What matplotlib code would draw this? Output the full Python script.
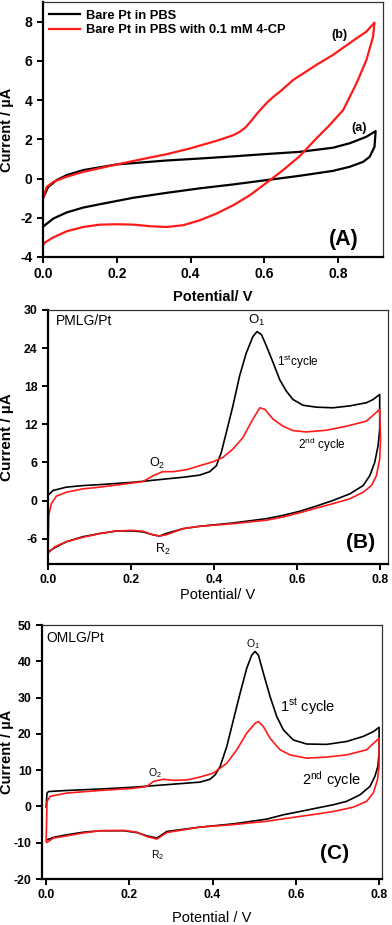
import numpy as np
import matplotlib
matplotlib.use("Agg")
import matplotlib.pyplot as plt

plt.rcParams["font.family"] = ["Liberation Sans", "DejaVu Sans"]
plt.rcParams["mathtext.fontset"] = "custom"
plt.rcParams["mathtext.rm"] = "Liberation Sans"
plt.rcParams["mathtext.it"] = "Liberation Sans:italic"
plt.rcParams["mathtext.bf"] = "Liberation Sans:bold"
plt.rcParams["axes.unicode_minus"] = False

RED = "#ff1a1a"

# ---------------------------------------------------------------------------
# Panel A: bare Pt, with / without 4-CP  (forward sweep, then reverse sweep)
# ---------------------------------------------------------------------------
a_black_fwd_v = [0.0, 0.014, 0.037, 0.064, 0.109, 0.2, 0.335, 0.425, 0.516, 0.606,
                 0.696, 0.786, 0.832, 0.877, 0.902]
a_black_fwd_i = [-1.0, -0.43, -0.08, 0.17, 0.43, 0.72, 0.92, 1.02, 1.13, 1.25,
                 1.36, 1.57, 1.8, 2.13, 2.42]
a_black_rev_v = [0.899, 0.886, 0.868, 0.832, 0.786, 0.696, 0.606, 0.516, 0.425, 0.335,
                 0.245, 0.154, 0.109, 0.064, 0.028, 0.005, 0.0]
a_black_rev_i = [1.62, 1.11, 0.85, 0.6, 0.39, 0.14, -0.08, -0.3, -0.5, -0.73,
                 -0.98, -1.31, -1.48, -1.73, -2.04, -2.38, -2.47]

a_red_fwd_v = [0.0, 0.01, 0.028, 0.064, 0.109, 0.2, 0.29, 0.335, 0.398, 0.47, 0.516,
               0.535, 0.55, 0.565, 0.58, 0.595, 0.61, 0.625, 0.645, 0.678, 0.741,
               0.786, 0.841, 0.877, 0.899]
a_red_fwd_i = [-1.0, -0.43, -0.17, 0.09, 0.34, 0.72, 1.07, 1.24, 1.53, 1.92, 2.21,
               2.4, 2.62, 2.95, 3.3, 3.62, 3.92, 4.17, 4.47, 5.02, 5.79,
               6.3, 7.03, 7.49, 7.95]
a_red_rev_v = [0.895, 0.877, 0.85, 0.814, 0.777, 0.741, 0.696, 0.651, 0.615, 0.561,
               0.516, 0.47, 0.425, 0.38, 0.335, 0.29, 0.245, 0.2, 0.154, 0.109,
               0.064, 0.028, 0.005, 0.0]
a_red_rev_i = [7.23, 6.04, 4.85, 3.49, 2.72, 2.04, 1.14, 0.43, -0.09, -0.85,
               -1.36, -1.79, -2.13, -2.38, -2.47, -2.43, -2.35, -2.33, -2.35, -2.47,
               -2.69, -3.0, -3.26, -3.4]

# ---------------------------------------------------------------------------
# Panel B: PMLG/Pt, 1st (black) and 2nd (red) cycle
# ---------------------------------------------------------------------------
b_black_fwd_v = [0.0, 0.012, 0.044, 0.084, 0.125, 0.205, 0.245, 0.285, 0.326, 0.366,
                 0.39, 0.406, 0.418, 0.43, 0.446, 0.462, 0.478, 0.494, 0.504, 0.515,
                 0.527, 0.543, 0.559, 0.575, 0.591, 0.615, 0.647, 0.687, 0.728, 0.768,
                 0.784, 0.8]
b_black_fwd_i = [0.79, 1.57, 2.1, 2.35, 2.5, 2.87, 3.13, 3.4, 3.66, 4.0,
                 4.54, 5.48, 7.57, 10.7, 14.9, 19.6, 23.2, 25.8, 26.6, 26.1,
                 24.3, 21.7, 19.0, 17.2, 15.9, 15.0, 14.7, 14.6, 14.9, 15.4,
                 15.9, 16.7]
b_black_rev_v = [0.8, 0.796, 0.788, 0.776, 0.76, 0.728, 0.687, 0.647, 0.607, 0.567,
                 0.527, 0.446, 0.366, 0.326, 0.285, 0.269, 0.253, 0.229, 0.205, 0.165,
                 0.125, 0.084, 0.044, 0.016, 0.0]
b_black_rev_i = [11.2, 8.6, 6.0, 3.9, 2.35, 1.05, 0.0, -0.88, -1.7, -2.34,
                 -2.86, -3.54, -4.06, -4.43, -5.2, -5.6, -5.4, -4.95, -4.8, -4.8,
                 -5.2, -5.7, -6.5, -7.45, -8.1]

b_red_fwd_v = [0.0, 0.002, 0.008, 0.02, 0.044, 0.084, 0.125, 0.205, 0.229, 0.253,
               0.277, 0.302, 0.334, 0.366, 0.398, 0.422, 0.446, 0.47, 0.494, 0.511,
               0.523, 0.543, 0.567, 0.591, 0.623, 0.671, 0.72, 0.768, 0.8]
b_red_fwd_i = [-8.2, -2.3, -0.5, 0.68, 1.3, 1.83, 2.1, 2.77, 2.98, 3.9,
               4.54, 4.54, 4.85, 5.48, 6.1, 6.8, 8.1, 9.9, 12.8, 14.6,
               14.35, 12.8, 11.7, 11.0, 10.8, 11.06, 11.7, 12.5, 14.35]
b_red_rev_v = [0.802, 0.8, 0.792, 0.78, 0.76, 0.728, 0.687, 0.647, 0.607, 0.567,
               0.527, 0.446, 0.366, 0.326, 0.285, 0.269, 0.253, 0.229, 0.205, 0.165,
               0.125, 0.084, 0.044, 0.016, 0.0]
b_red_rev_i = [9.65, 6.5, 3.9, 2.35, 1.3, 0.27, -0.5, -1.2, -1.93, -2.6,
               -3.1, -3.65, -4.06, -4.43, -5.4, -5.6, -5.4, -4.85, -4.7, -4.8,
               -5.2, -5.8, -6.5, -7.3, -8.3]

# ---------------------------------------------------------------------------
# Panel C: OMLG/Pt, 1st (black) and 2nd (red) cycle
# ---------------------------------------------------------------------------
c_black_fwd_v = [0.0, 0.002, 0.006, 0.05, 0.13, 0.21, 0.29, 0.37, 0.394, 0.406,
                 0.418, 0.434, 0.45, 0.466, 0.482, 0.494, 0.502, 0.51, 0.522, 0.538,
                 0.554, 0.57, 0.594, 0.626, 0.674, 0.722, 0.762, 0.786, 0.8]
c_black_fwd_i = [-0.2, 3.7, 4.1, 4.4, 4.8, 5.3, 6.0, 6.7, 7.5, 8.7,
                 11.0, 16.5, 23.9, 31.2, 38.1, 41.7, 42.7, 41.7, 36.7, 30.3,
                 24.8, 21.1, 18.3, 17.2, 17.1, 17.9, 19.3, 20.6, 21.8]
c_black_rev_v = [0.8, 0.797, 0.79, 0.778, 0.754, 0.722, 0.69, 0.65, 0.61, 0.57,
                 0.53, 0.45, 0.37, 0.29, 0.266, 0.242, 0.218, 0.186, 0.13, 0.09,
                 0.05, 0.018, 0.002]
c_black_rev_i = [14.7, 11.0, 8.3, 5.5, 3.2, 1.4, 0.46, -0.46, -1.4, -2.3,
                 -3.5, -4.8, -5.7, -6.9, -8.7, -8.1, -7.2, -6.7, -6.7, -7.1,
                 -7.8, -8.5, -9.2]

c_red_fwd_v = [0.0, 0.002, 0.01, 0.05, 0.13, 0.21, 0.242, 0.258, 0.282, 0.306,
               0.338, 0.37, 0.402, 0.434, 0.458, 0.482, 0.502, 0.51, 0.522, 0.538,
               0.562, 0.586, 0.626, 0.674, 0.722, 0.77, 0.8]
c_red_fwd_i = [-9.7, 1.4, 2.8, 3.7, 4.4, 5.0, 5.5, 6.9, 7.5, 7.2,
               7.3, 8.1, 9.2, 11.9, 15.6, 20.2, 22.9, 23.4, 22.0, 18.8,
               15.6, 14.2, 13.3, 13.6, 14.2, 15.6, 18.8]
c_red_rev_v = [0.8, 0.796, 0.786, 0.77, 0.738, 0.69, 0.65, 0.61, 0.57, 0.53,
               0.45, 0.37, 0.29, 0.266, 0.242, 0.218, 0.186, 0.13, 0.09, 0.05,
               0.018, 0.002]
c_red_rev_i = [11.0, 7.3, 3.7, 1.4, -0.2, -1.4, -2.1, -2.75, -3.4, -4.1,
               -5.0, -5.7, -7.2, -9.0, -8.3, -7.1, -6.6, -6.7, -7.3, -8.1,
               -8.7, -9.9]


def loop(fwd_v, fwd_i, rev_v, rev_i):
    return np.array(fwd_v + rev_v), np.array(fwd_i + rev_i)


def style_axes(ax, tick_size):
    for side in ("left", "bottom"):
        ax.spines[side].set_linewidth(1.6)
    for side in ("top", "right"):
        ax.spines[side].set_linewidth(0.9)
        ax.spines[side].set_color("#333333")
    ax.tick_params(direction="out", length=4, width=1.4, labelsize=tick_size,
                   top=False, right=False)
    for lab in ax.get_xticklabels() + ax.get_yticklabels():
        lab.set_fontweight("bold")


fig = plt.figure(figsize=(3.92, 9.25), dpi=100)
W, H = 392.0, 925.0


def add_axes(left, top, right, bottom):
    return fig.add_axes([left / W, 1 - bottom / H, (right - left) / W, (bottom - top) / H])


# ---- Panel A --------------------------------------------------------------
axA = add_axes(43, 2, 383, 257)
v, i = loop(a_black_fwd_v, a_black_fwd_i, a_black_rev_v, a_black_rev_i)
axA.plot(v, i, color="black", lw=1.6, label="Bare Pt in PBS")
v, i = loop(a_red_fwd_v, a_red_fwd_i, a_red_rev_v, a_red_rev_i)
axA.plot(v, i, color=RED, lw=1.6, label="Bare Pt in PBS with 0.1 mM 4-CP")
axA.set_xlim(0, 0.922)
axA.set_ylim(-4, 9.0)
axA.set_xticks([0.0, 0.2, 0.4, 0.6, 0.8])
axA.set_yticks([-4, -2, 0, 2, 4, 6, 8])
axA.set_xticklabels(["0.0", "0.2", "0.4", "0.6", "0.8"])
style_axes(axA, 10)
axA.set_xlabel("Potential/ V", fontsize=10.5, fontweight="bold")
axA.set_ylabel("Current / µA", fontsize=10.5, fontweight="bold")
axA.xaxis.set_label_coords(0.5, -0.13)
axA.yaxis.set_label_coords(-0.085, 0.5)
leg = axA.legend(loc="upper left", bbox_to_anchor=(-0.01, 1.005), frameon=False,
                 prop={"weight": "bold", "size": 9.3}, handlelength=2.4,
                 handletextpad=0.5, labelspacing=0.2, borderaxespad=0.3)
axA.text(0.805, 7.3, "(b)", fontsize=9, fontweight="bold", ha="center", va="center")
axA.text(0.857, 2.6, "(a)", fontsize=9, fontweight="bold", ha="center", va="center")
axA.text(0.885, 0.07, "(A)", transform=axA.transAxes, fontsize=15.5,
         fontweight="bold", ha="center", va="center")

# ---- Panel B --------------------------------------------------------------
axB = add_axes(48, 310, 388, 564)
v, i = loop(b_black_fwd_v, b_black_fwd_i, b_black_rev_v, b_black_rev_i)
axB.plot(v, i, color="black", lw=1.2)
v, i = loop(b_red_fwd_v, b_red_fwd_i, b_red_rev_v, b_red_rev_i)
axB.plot(v, i, color=RED, lw=1.2)
axB.set_xlim(0, 0.82)
axB.set_ylim(-10, 30)
axB.set_xticks([0.0, 0.2, 0.4, 0.6, 0.8])
axB.set_xticklabels(["0.0", "0.2", "0.4", "0.6", "0.8"])
axB.set_yticks([-6, 0, 6, 12, 18, 24, 30])
style_axes(axB, 8.8)
axB.set_xlabel("Potential/ V", fontsize=10.5)
axB.set_ylabel("Current / µA", fontsize=11, fontweight="bold")
axB.xaxis.set_label_coords(0.5, -0.095)
axB.yaxis.set_label_coords(-0.1, 0.5)
axB.text(0.02, 28.2, "PMLG/Pt", fontsize=10, ha="left", va="center")
axB.text(0.504, 28.3, r"O$_1$", fontsize=9.5, ha="center", va="center")
axB.text(0.552, 21.8, r"1$^{\rm st}$cycle", fontsize=8.5, ha="left", va="center")
axB.text(0.602, 8.7, r"2$^{\rm nd}$ cycle", fontsize=8.5, ha="left", va="center")
axB.text(0.262, 5.8, r"O$_2$", fontsize=9, ha="center", va="center")
axB.text(0.278, -7.7, r"R$_2$", fontsize=9, ha="center", va="center")
axB.text(0.92, 0.085, "(B)", transform=axB.transAxes, fontsize=15,
         fontweight="bold", ha="center", va="center")

# ---- Panel C --------------------------------------------------------------
axC = add_axes(42, 625, 382, 879)
v, i = loop(c_black_fwd_v, c_black_fwd_i, c_black_rev_v, c_black_rev_i)
axC.plot(v, i, color="black", lw=1.2)
v, i = loop(c_red_fwd_v, c_red_fwd_i, c_red_rev_v, c_red_rev_i)
axC.plot(v, i, color=RED, lw=1.2)
axC.set_xlim(-0.01, 0.807)
axC.set_ylim(-20, 50)
axC.set_xticks([0.0, 0.2, 0.4, 0.6, 0.8])
axC.set_xticklabels(["0.0", "0.2", "0.4", "0.6", "0.8"])
axC.set_yticks([-20, -10, 0, 10, 20, 30, 40, 50])
style_axes(axC, 8.8)
axC.set_xlabel("Potential / V", fontsize=10.5)
axC.set_ylabel("Current / µA", fontsize=10.5, fontweight="bold")
axC.xaxis.set_label_coords(0.5, -0.125)
axC.yaxis.set_label_coords(-0.082, 0.5)
axC.text(0.0, 46.5, "OMLG/Pt", fontsize=10, ha="left", va="center")
axC.text(0.497, 44.6, r"O$_1$", fontsize=7.5, ha="center", va="center")
axC.text(0.562, 27.4, r"1$^{\rm st}$ cycle", fontsize=10.5, ha="left", va="center")
axC.text(0.615, 7.3, r"2$^{\rm nd}$ cycle", fontsize=10.5, ha="left", va="center")
axC.text(0.262, 9.2, r"O$_2$", fontsize=7.5, ha="center", va="center")
axC.text(0.267, -13.4, r"R$_2$", fontsize=7.5, ha="center", va="center")
axC.text(0.86, 0.1, "(C)", transform=axC.transAxes, fontsize=15,
         fontweight="bold", ha="center", va="center")

fig.savefig("out.png", dpi=100)
